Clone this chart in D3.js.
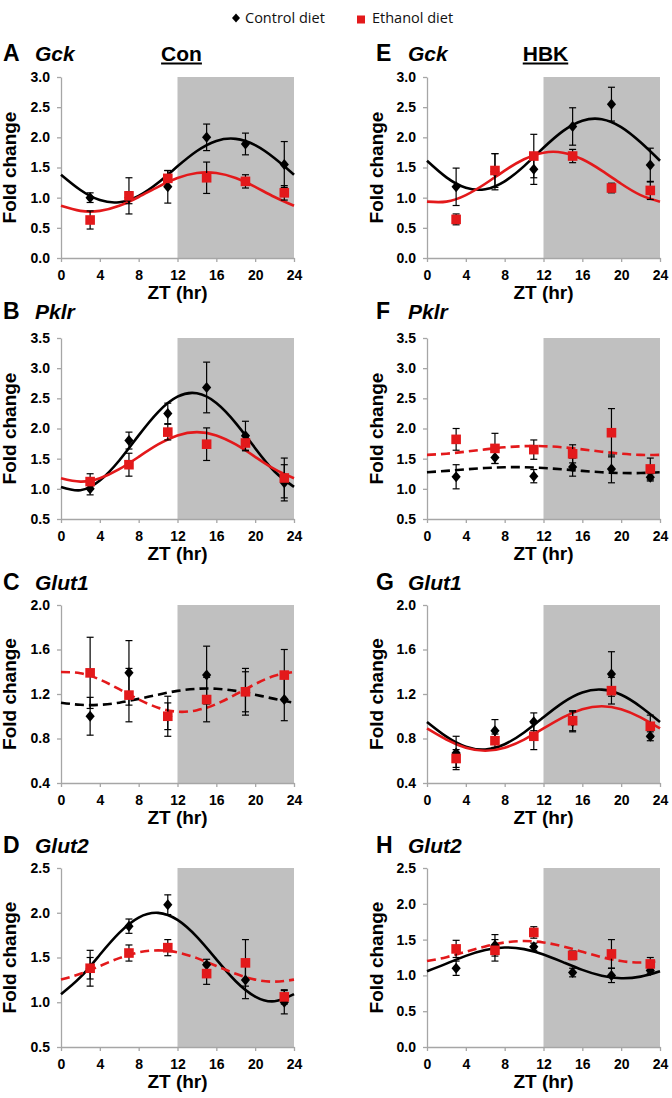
<!DOCTYPE html>
<html><head><meta charset="utf-8">
<script src="https://cdn.jsdelivr.net/npm/d3@7"></script>
<style>body{margin:0;background:#fff}svg{display:block}</style>
</head><body>
<svg id="chart" width="672" height="1098"></svg>
<script>
// ---------- data ----------
const sampleZT = [3, 7, 11, 15, 19, 23];
const fitZT = [0, 2, 4, 6, 8, 10, 12, 14, 16, 18, 20, 22, 24];
const xTicks = [0, 4, 8, 12, 16, 20, 24];
const darkPhase = [12, 24];
const seriesNames = ["Control diet", "Ethanol diet"];

// A  Gck (Con)
const gckConCtrl = [1.00, 1.00, 1.18, 2.00, 1.89, 1.55];
const gckConCtrlSem = [0.08, 0.10, 0.27, 0.22, 0.18, 0.38];
const gckConEth = [0.63, 1.03, 1.32, 1.33, 1.27, 1.08];
const gckConEthSem = [0.15, 0.30, 0.13, 0.26, 0.11, 0.12];
const gckConCtrlFit = [1.381, 1.127, 0.960, 0.925, 1.030, 1.247, 1.519, 1.773, 1.940, 1.975, 1.870, 1.653, 1.381];
const gckConEthFit = [0.865, 0.781, 0.781, 0.865, 1.011, 1.179, 1.325, 1.409, 1.409, 1.325, 1.179, 1.011, 0.865];

// E  Gck (HBK)
const gckHbkCtrl = [1.18, 1.43, 1.47, 2.18, 2.55, 1.54];
const gckHbkCtrlSem = [0.31, 0.30, 0.25, 0.31, 0.28, 0.28];
const gckHbkEth = [0.64, 1.45, 1.69, 1.69, 1.16, 1.12];
const gckHbkEthSem = [0.09, 0.28, 0.36, 0.11, 0.08, 0.15];
const gckHbkCtrlFit = [1.612, 1.337, 1.164, 1.140, 1.271, 1.523, 1.827, 2.103, 2.276, 2.300, 2.169, 1.917, 1.612];
const gckHbkEthFit = [0.934, 0.934, 1.043, 1.231, 1.449, 1.637, 1.746, 1.746, 1.637, 1.449, 1.231, 1.043, 0.934];

// B  Pklr (Con)
const pklrConCtrl = [1.00, 1.80, 2.25, 2.68, 1.88, 1.10];
const pklrConCtrlSem = [0.10, 0.14, 0.17, 0.42, 0.24, 0.30];
const pklrConEth = [1.12, 1.40, 1.94, 1.74, 1.76, 1.18];
const pklrConEthSem = [0.13, 0.19, 0.13, 0.27, 0.13, 0.33];
const pklrConCtrlFit = [1.032, 0.977, 1.137, 1.470, 1.886, 2.273, 2.528, 2.583, 2.423, 2.090, 1.674, 1.287, 1.032];
const pklrConEthFit = [1.175, 1.120, 1.175, 1.325, 1.530, 1.735, 1.885, 1.940, 1.885, 1.735, 1.530, 1.325, 1.175];

// F  Pklr (HBK)
const pklrHbkCtrl = [1.20, 1.52, 1.21, 1.36, 1.33, 1.19];
const pklrHbkCtrlSem = [0.20, 0.10, 0.11, 0.15, 0.23, 0.06];
const pklrHbkEth = [1.82, 1.67, 1.65, 1.58, 1.93, 1.33];
const pklrHbkEthSem = [0.18, 0.25, 0.16, 0.15, 0.40, 0.18];
const pklrHbkCtrlFit = [1.275, 1.297, 1.323, 1.345, 1.358, 1.358, 1.345, 1.323, 1.297, 1.275, 1.262, 1.262, 1.275];
const pklrHbkEthFit = [1.563, 1.582, 1.616, 1.654, 1.688, 1.707, 1.707, 1.688, 1.654, 1.616, 1.582, 1.563, 1.563];

// C  Glut1 (Con)
const glut1ConCtrl = [1.00, 1.39, 1.00, 1.37, 1.22, 1.15];
const glut1ConCtrlSem = [0.17, 0.29, 0.12, 0.26, 0.18, 0.19];
const glut1ConEth = [1.39, 1.19, 1.00, 1.15, 1.22, 1.37];
const glut1ConEthSem = [0.32, 0.24, 0.18, 0.20, 0.21, 0.23];
const glut1ConCtrlFit = [1.122, 1.103, 1.103, 1.122, 1.156, 1.194, 1.228, 1.247, 1.247, 1.228, 1.194, 1.156, 1.122];
const glut1ConEthFit = [1.398, 1.386, 1.330, 1.243, 1.151, 1.077, 1.041, 1.054, 1.110, 1.196, 1.289, 1.363, 1.398];

// G  Glut1 (HBK)
const glut1HbkCtrl = [0.67, 0.87, 0.95, 0.95, 1.38, 0.82];
const glut1HbkCtrlSem = [0.15, 0.10, 0.08, 0.09, 0.20, 0.04];
const glut1HbkEth = [0.62, 0.78, 0.82, 0.96, 1.23, 0.91];
const glut1HbkEthSem = [0.08, 0.06, 0.12, 0.09, 0.12, 0.10];
const glut1HbkCtrlFit = [0.949, 0.817, 0.726, 0.701, 0.748, 0.854, 0.991, 1.123, 1.214, 1.239, 1.193, 1.086, 0.949];
const glut1HbkEthFit = [0.890, 0.790, 0.717, 0.690, 0.717, 0.790, 0.890, 0.990, 1.063, 1.090, 1.063, 0.990, 0.890];

// D  Glut2 (Con)
const glut2ConCtrl = [1.38, 1.85, 2.09, 1.42, 1.25, 1.00];
const glut2ConCtrlSem = [0.12, 0.08, 0.11, 0.06, 0.21, 0.13];
const glut2ConEth = [1.38, 1.55, 1.61, 1.32, 1.44, 1.06];
const glut2ConEthSem = [0.20, 0.09, 0.09, 0.12, 0.26, 0.08];
const glut2ConCtrlFit = [1.090, 1.280, 1.531, 1.775, 1.946, 1.999, 1.920, 1.730, 1.479, 1.235, 1.064, 1.011, 1.090];
const glut2ConEthFit = [1.253, 1.318, 1.405, 1.493, 1.557, 1.580, 1.557, 1.493, 1.405, 1.318, 1.253, 1.230, 1.253];

// H  Glut2 (HBK)
const glut2HbkCtrl = [1.10, 1.42, 1.40, 1.04, 1.00, 1.07];
const glut2HbkCtrlSem = [0.10, 0.15, 0.05, 0.06, 0.10, 0.04];
const glut2HbkEth = [1.37, 1.35, 1.60, 1.28, 1.30, 1.16];
const glut2HbkEthSem = [0.12, 0.15, 0.08, 0.06, 0.20, 0.09];
const glut2HbkCtrlFit = [1.058, 1.164, 1.273, 1.355, 1.390, 1.367, 1.292, 1.186, 1.077, 0.995, 0.960, 0.983, 1.058];
const glut2HbkEthFit = [1.200, 1.255, 1.330, 1.405, 1.460, 1.480, 1.460, 1.405, 1.330, 1.255, 1.200, 1.180, 1.200];

// y tick labels
const ticksGck = [0, 0.5, 1.0, 1.5, 2.0, 2.5, 3.0];
const ticksPklr = [0.5, 1.0, 1.5, 2.0, 2.5, 3.0, 3.5];
const ticksGlut1 = [0.4, 0.8, 1.2, 1.6, 2.0];
const ticksGlut2Con = [0.5, 1.0, 1.5, 2.0, 2.5];
const ticksGlut2Hbk = [0, 0.5, 1.0, 1.5, 2.0, 2.5];

// ---------- panel table ----------
const panels = [
  {letter:"A", gene:"Gck", group:"Con", col:0, row:0, ticks:ticksGck, ctrl:gckConCtrl, ctrlSem:gckConCtrlSem, eth:gckConEth, ethSem:gckConEthSem, ctrlFit:gckConCtrlFit, ethFit:gckConEthFit, ctrlDash:false, ethDash:false},
  {letter:"E", gene:"Gck", group:"HBK", col:1, row:0, ticks:ticksGck, ctrl:gckHbkCtrl, ctrlSem:gckHbkCtrlSem, eth:gckHbkEth, ethSem:gckHbkEthSem, ctrlFit:gckHbkCtrlFit, ethFit:gckHbkEthFit, ctrlDash:false, ethDash:false},
  {letter:"B", gene:"Pklr", col:0, row:1, ticks:ticksPklr, ctrl:pklrConCtrl, ctrlSem:pklrConCtrlSem, eth:pklrConEth, ethSem:pklrConEthSem, ctrlFit:pklrConCtrlFit, ethFit:pklrConEthFit, ctrlDash:false, ethDash:false},
  {letter:"F", gene:"Pklr", col:1, row:1, ticks:ticksPklr, ctrl:pklrHbkCtrl, ctrlSem:pklrHbkCtrlSem, eth:pklrHbkEth, ethSem:pklrHbkEthSem, ctrlFit:pklrHbkCtrlFit, ethFit:pklrHbkEthFit, ctrlDash:true, ethDash:true},
  {letter:"C", gene:"Glut1", col:0, row:2, ticks:ticksGlut1, ctrl:glut1ConCtrl, ctrlSem:glut1ConCtrlSem, eth:glut1ConEth, ethSem:glut1ConEthSem, ctrlFit:glut1ConCtrlFit, ethFit:glut1ConEthFit, ctrlDash:true, ethDash:true},
  {letter:"G", gene:"Glut1", col:1, row:2, ticks:ticksGlut1, ctrl:glut1HbkCtrl, ctrlSem:glut1HbkCtrlSem, eth:glut1HbkEth, ethSem:glut1HbkEthSem, ctrlFit:glut1HbkCtrlFit, ethFit:glut1HbkEthFit, ctrlDash:false, ethDash:false},
  {letter:"D", gene:"Glut2", col:0, row:3, ticks:ticksGlut2Con, ctrl:glut2ConCtrl, ctrlSem:glut2ConCtrlSem, eth:glut2ConEth, ethSem:glut2ConEthSem, ctrlFit:glut2ConCtrlFit, ethFit:glut2ConEthFit, ctrlDash:false, ethDash:true},
  {letter:"H", gene:"Glut2", col:1, row:3, ticks:ticksGlut2Hbk, ctrl:glut2HbkCtrl, ctrlSem:glut2HbkCtrlSem, eth:glut2HbkEth, ethSem:glut2HbkEthSem, ctrlFit:glut2HbkCtrlFit, ethFit:glut2HbkEthFit, ctrlDash:false, ethDash:true}
];

// ---------- layout ----------
const colX = [[61, 294], [427, 660]];
const rowY = [[77, 258], [338, 519], [605, 783], [868, 1047]];
const titleBase = [61, 319, 590, 853];
const letterX = [3, 376];
const geneX = [35, 408];
const yTitleX = [16, 383];
const groupCX = [181.5, 545.5];
const RED = "#e3191b";
const AXIS = "#a6a6a6";
const FONT = "'Liberation Sans', Arial, sans-serif";

const svg = d3.select("#chart");

// legend
const lg = svg.append("g");
lg.append("path").attr("d", "M236,13.5L240,18L236,22.5L232,18Z").attr("fill", "#000");
lg.append("text").attr("x", 245).attr("y", 23.3).text(seriesNames[0])
  .attr("font-family", "'Open Sans', sans-serif").attr("font-size", 14.5).attr("fill", "#111");
lg.append("rect").attr("x", 357).attr("y", 15.5).attr("width", 8).attr("height", 8).attr("fill", RED);
lg.append("text").attr("x", 372).attr("y", 23.3).text(seriesNames[1])
  .attr("font-family", "'Open Sans', sans-serif").attr("font-size", 14.5).attr("fill", "#111");

panels.forEach(p => {
  const [x0, x1] = colX[p.col];
  const [y0, y1] = rowY[p.row];
  const x = d3.scaleLinear().domain([0, 24]).range([x0, x1]);
  const y = d3.scaleLinear().domain([p.ticks[0], p.ticks[p.ticks.length - 1]]).range([y1, y0]);
  const g = svg.append("g");

  // titles
  const tb = titleBase[p.row];
  g.append("text").attr("x", letterX[p.col]).attr("y", tb).text(p.letter)
    .attr("font-family", FONT).attr("font-weight", "bold").attr("font-size", 23);
  g.append("text").attr("x", geneX[p.col]).attr("y", tb).text(p.gene)
    .attr("font-family", FONT).attr("font-weight", "bold").attr("font-style", "italic").attr("font-size", 21);
  if (p.group) {
    const t = g.append("text").attr("x", groupCX[p.col]).attr("y", tb).text(p.group)
      .attr("text-anchor", "middle").attr("font-family", FONT).attr("font-weight", "bold").attr("font-size", 21);
    const w = t.node().getComputedTextLength();
    g.append("line").attr("x1", groupCX[p.col] - w / 2).attr("x2", groupCX[p.col] + w / 2)
      .attr("y1", tb + 2.5).attr("y2", tb + 2.5).attr("stroke", "#000").attr("stroke-width", 2);
  }

  // dark phase shading
  g.append("rect").attr("x", x(darkPhase[0])).attr("y", y0)
    .attr("width", x(darkPhase[1]) - x(darkPhase[0])).attr("height", y1 - y0).attr("fill", "#c0c0c0");

  // axes
  const ya = g.append("g").attr("transform", `translate(${x0},0)`)
    .call(d3.axisLeft(y).tickValues(p.ticks).tickFormat(d3.format(".1f")).tickSize(4).tickSizeOuter(0).tickPadding(7));
  const xa = g.append("g").attr("transform", `translate(0,${y1})`)
    .call(d3.axisBottom(x).tickValues(xTicks).tickFormat(d3.format("d")).tickSize(4).tickSizeOuter(0).tickPadding(8));
  [ya, xa].forEach(a => {
    a.select(".domain").attr("stroke", AXIS).attr("stroke-width", 1.3);
    a.selectAll(".tick line").attr("stroke", AXIS).attr("stroke-width", 1.3);
    a.selectAll(".tick text").attr("font-family", FONT).attr("font-weight", "bold")
      .attr("font-size", 14).attr("fill", "#000");
  });

  // axis titles
  g.append("text").attr("x", (x0 + x1) / 2).attr("y", y1 + 41).attr("text-anchor", "middle").text("ZT (hr)")
    .attr("font-family", FONT).attr("font-weight", "bold").attr("font-size", 19);
  g.append("text").attr("transform", `translate(${yTitleX[p.col]},${(y0 + y1) / 2}) rotate(-90)`)
    .attr("text-anchor", "middle").text("Fold change")
    .attr("font-family", FONT).attr("font-weight", "bold").attr("font-size", 19);

  // fitted curves
  const line = d3.line().x((d, i) => x(fitZT[i])).y(d => y(d)).curve(d3.curveNatural);
  g.append("path").attr("d", line(p.ctrlFit)).attr("fill", "none").attr("stroke", "#000")
    .attr("stroke-width", 2.6).attr("stroke-dasharray", p.ctrlDash ? "9,5" : null);
  g.append("path").attr("d", line(p.ethFit)).attr("fill", "none").attr("stroke", RED)
    .attr("stroke-width", 2.6).attr("stroke-dasharray", p.ethDash ? "9,5" : null);

  // error bars + markers
  function errBars(vals, sems) {
    const eg = g.append("g").attr("stroke", "#000").attr("stroke-width", 1.2);
    vals.forEach((v, i) => {
      const cx = x(sampleZT[i]), ylo = y(v - sems[i]), yhi = y(v + sems[i]);
      eg.append("line").attr("x1", cx).attr("x2", cx).attr("y1", ylo).attr("y2", yhi);
      eg.append("line").attr("x1", cx - 3.5).attr("x2", cx + 3.5).attr("y1", ylo).attr("y2", ylo);
      eg.append("line").attr("x1", cx - 3.5).attr("x2", cx + 3.5).attr("y1", yhi).attr("y2", yhi);
    });
  }
  errBars(p.ctrl, p.ctrlSem);
  g.append("g").selectAll("path").data(p.ctrl).join("path")
    .attr("transform", (d, i) => `translate(${x(sampleZT[i])},${y(d)})`)
    .attr("d", "M0,-5.5L4.6,0L0,5.5L-4.6,0Z").attr("fill", "#000");
  errBars(p.eth, p.ethSem);
  g.append("g").selectAll("rect").data(p.eth).join("rect")
    .attr("x", (d, i) => x(sampleZT[i]) - 4.8).attr("y", d => y(d) - 4.8)
    .attr("width", 9.6).attr("height", 9.6).attr("fill", RED);
});
</script>
</body></html>
